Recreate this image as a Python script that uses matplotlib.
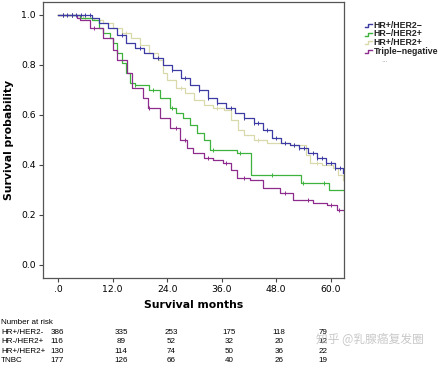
import numpy as np
import matplotlib
matplotlib.use("Agg")
import matplotlib.pyplot as plt
from matplotlib.lines import Line2D

plt.rcParams['font.family'] = ['DejaVu Sans', 'Noto Sans CJK SC']

# Kaplan-Meier step points (month, survival)
t_hr_her2neg = [0, 7.5, 9, 11, 13, 15, 17, 19, 21, 23, 25, 27, 29, 31, 33, 35, 37, 39, 41, 43, 45, 47, 49, 51, 53, 55, 57, 59, 61, 62.6]
s_hr_her2neg = [1.0, 0.99, 0.97, 0.95, 0.92, 0.89, 0.87, 0.85, 0.83, 0.80, 0.78, 0.75, 0.72, 0.70, 0.67, 0.65, 0.63, 0.61, 0.59, 0.57, 0.54, 0.51, 0.49, 0.48, 0.47, 0.45, 0.43, 0.41, 0.39, 0.37]

t_hrneg_her2pos = [0, 4.8, 7.5, 9, 10, 11.4, 12.1, 13, 14, 15, 15.8, 17, 20, 22.4, 24.6, 26, 27.5, 29, 30.5, 32, 33.4, 39.3, 42.5, 53.5, 59.5, 62.6]
s_hrneg_her2pos = [1.0, 0.99, 0.98, 0.95, 0.93, 0.91, 0.89, 0.85, 0.81, 0.77, 0.73, 0.72, 0.70, 0.67, 0.63, 0.61, 0.59, 0.56, 0.53, 0.50, 0.46, 0.45, 0.36, 0.33, 0.30, 0.30]

t_hrpos_her2pos = [0, 5.5, 8, 10, 12, 14, 16, 18, 20, 22, 23, 24, 26, 28, 30, 32, 34, 36.5, 38, 39.5, 41, 43, 46, 51, 54.5, 55.5, 58, 60.4, 61.5, 62.6]
s_hrpos_her2pos = [1.0, 0.99, 0.98, 0.97, 0.95, 0.93, 0.91, 0.88, 0.85, 0.82, 0.77, 0.74, 0.71, 0.69, 0.66, 0.64, 0.63, 0.62, 0.58, 0.54, 0.52, 0.50, 0.49, 0.48, 0.44, 0.41, 0.40, 0.39, 0.36, 0.34]

t_tnbc = [0, 4.2, 4.8, 7, 9.9, 12.1, 13, 15.2, 16.3, 18.7, 19.8, 22.4, 24.6, 26.8, 28.4, 29.7, 32, 34, 36.3, 38, 39.3, 42.2, 45, 48.8, 51.6, 56, 59.1, 61.3, 62.6]
s_tnbc = [1.0, 0.99, 0.98, 0.95, 0.91, 0.86, 0.82, 0.77, 0.71, 0.67, 0.63, 0.59, 0.55, 0.50, 0.47, 0.45, 0.43, 0.42, 0.41, 0.38, 0.35, 0.34, 0.31, 0.29, 0.26, 0.25, 0.24, 0.22, 0.22]

# censor times (tick marks)
c_hr_her2neg = [1, 2, 3, 4, 5, 6, 7, 14, 18, 22, 25, 28, 31, 33, 35, 38, 41, 43, 44, 46, 48, 50, 52, 53, 54, 56, 57, 58, 59, 60, 61, 62]
c_hrneg_her2pos = [3, 13, 17, 21, 25, 34, 40, 47, 53.8, 58.5]
c_hrpos_her2pos = [2, 6, 15, 27, 35, 44, 52, 57, 61]
c_tnbc = [1, 3, 8, 20, 26, 28, 33, 37, 41, 50, 55, 60, 61.8]

groups = ["HR+/HER2\u2212", "HR\u2212/HER2+", "HR+/HER2+", "Triple\u2212negative"]
colors = ["#3b3ba3", "#3db23d", "#d9d9ab", "#8e2c8e"]

risk_names = ["HR+/HER2-", "HR-/HER2+", "HR+/HER2+", "TNBC"]
risk_counts = [[386, 335, 253, 175, 118, 79],
               [116, 89, 52, 32, 20, 12],
               [130, 114, 74, 50, 36, 22],
               [177, 126, 66, 40, 26, 19]]

W, H = 441, 365
fig = plt.figure(figsize=(W/100, H/100), dpi=100)
ax = fig.add_axes([43/W, 1-278/H, 301/W, 276/H])

series = [(t_hr_her2neg, s_hr_her2neg, c_hr_her2neg),
          (t_hrneg_her2pos, s_hrneg_her2pos, c_hrneg_her2pos),
          (t_hrpos_her2pos, s_hrpos_her2pos, c_hrpos_her2pos),
          (t_tnbc, s_tnbc, c_tnbc)]
# draw order: yellow under the others, blue on top
for i in [2, 1, 3, 0]:
    t, s, c = series[i]
    z = 3 if i == 0 else 2
    ax.plot(t, s, drawstyle='steps-post', color=colors[i], lw=0.9, zorder=z)
    idx = np.searchsorted(t, c, side='right') - 1
    ax.plot(c, np.array(s)[idx], ls='none', marker='|', ms=3, mew=0.7, color=colors[i], zorder=z)

ax.set_xlim(-3.3, 62.9)
ax.set_ylim(-0.052, 1.052)
ax.set_xticks([0, 12, 24, 36, 48, 60])
ax.set_xticklabels([".0", "12.0", "24.0", "36.0", "48.0", "60.0"])
ax.set_yticks([0, 0.2, 0.4, 0.6, 0.8, 1.0])
ax.set_yticklabels(["0.0", "0.2", "0.4", "0.6", "0.8", "1.0"])
ax.tick_params(labelsize=6.7, length=3, width=0.8, color='#444444', pad=2)
for sp in ax.spines.values():
    sp.set_color('#555555')
    sp.set_linewidth(0.9)
ax.set_xlabel("Survival months", fontsize=7.8, fontweight='bold', labelpad=4)
ax.set_ylabel("Survival probability", fontsize=7.8, fontweight='bold', labelpad=5)

# legend drawn by hand: small step glyph + label
leg_y = [25, 34, 42.5, 51]
for i, (g, col) in enumerate(zip(groups, colors)):
    y = leg_y[i]
    xs = np.array([365, 368, 368, 372]) / W
    ys = 1 - np.array([y + 1.5, y + 1.5, y - 1.5, y - 1.5]) / H
    fig.add_artist(Line2D(xs, ys, color=col, lw=1.0))
    fig.text(373.5/W, 1 - y/H, g, fontsize=6.3, fontweight='bold', family='Liberation Sans',
             color='#222222', ha='left', va='center')
fig.text(381/W, 1 - 60/H, "...", fontsize=5, color='#aaaaaa', ha='left', va='center')

# number at risk table
fs_tab = 5.8
fig.text(1/W, 1 - 323/H, "Number at risk", fontsize=fs_tab, family='Liberation Sans', va='center', ha='left')
col_x = [57, 121, 171, 229, 279, 323]
for r, (name, counts) in enumerate(zip(risk_names, risk_counts)):
    y = 1 - (332.5 + r*9.3)/H
    fig.text(1/W, y, name, fontsize=fs_tab, family='Liberation Sans', va='center', ha='left')
    for x, v in zip(col_x, counts):
        fig.text(x/W, y, str(v), fontsize=fs_tab, family='Liberation Sans', va='center', ha='center')

# watermark
fig.text(370/W, 1 - 339/H, "知乎 @乳腺癌复发圈", fontsize=8.5, color='#bbbbbb', alpha=0.8,
         ha='center', va='center', family=['Noto Sans CJK SC', 'DejaVu Sans'])

fig.savefig("out.png", dpi=100)
